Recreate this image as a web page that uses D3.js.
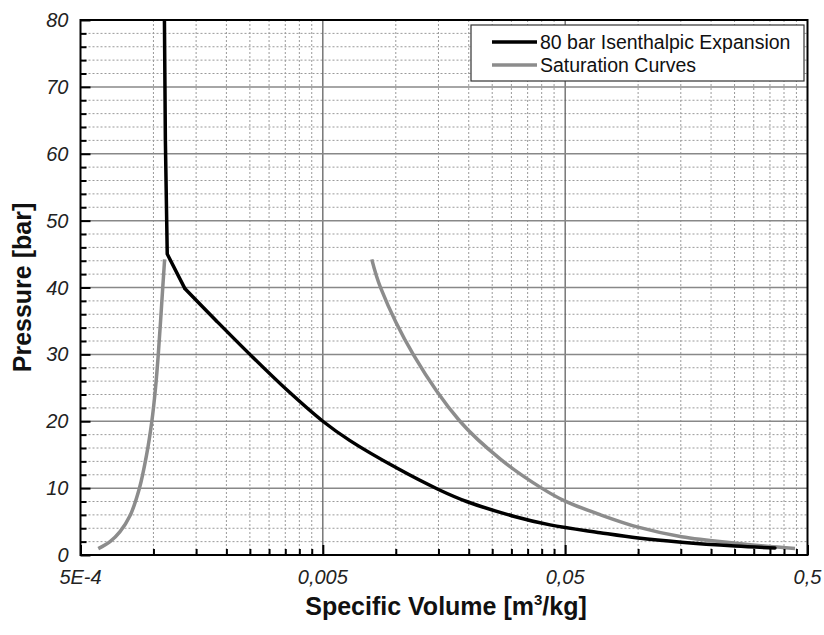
<!DOCTYPE html>
<html>
<head>
<meta charset="utf-8">
<style>
  body { margin: 0; background: #fff; }
  text { font-family: "Liberation Sans", Arial, sans-serif; }
  .tick-label { font-size: 20px; font-style: italic; fill: #222; }
  .axis-title { font-size: 25px; font-weight: bold; fill: #111; }
</style>
</head>
<body>
<svg id="chart" width="824" height="635"></svg>
<script src="https://cdnjs.cloudflare.com/ajax/libs/d3/7.8.5/d3.min.js"></script>
<script>
// data: [specific volume m3/kg, pressure bar]
const expansionLiquid = [
  [0.00111, 80], [0.00112, 62], [0.00114, 45], [0.00135, 39.8]
];
const expansionTwoPhase = [
  [0.00135, 39.8], [0.00182, 35], [0.0025, 30], [0.00355, 24.7],
  [0.005, 20], [0.00647, 17.1], [0.0101, 13], [0.015, 9.8],
  [0.0196, 8], [0.0306, 5.8], [0.0433, 4.5], [0.0697, 3.34],
  [0.1, 2.54], [0.151, 1.91], [0.251, 1.35], [0.367, 1.05]
];
const satLiquid = [
  [0.000592, 0.95], [0.000662, 2.0], [0.000728, 3.5], [0.000801, 5.9],
  [0.000874, 9.9], [0.000936, 14.9], [0.000984, 19.9], [0.00102, 25],
  [0.001047, 30], [0.001092, 39.9], [0.001112, 44.2]
];
const satVapour = [
  [0.00796, 44.2], [0.00867, 39.9], [0.0118, 30], [0.0184, 20],
  [0.0271, 14.3], [0.04, 10], [0.05, 8.05], [0.0697, 6.03], [0.1, 4.16],
  [0.151, 2.74], [0.251, 1.77], [0.444, 0.97]
];
const xMajor = [0.0005, 0.005, 0.05, 0.5];
const xTickLabels = ['5E-4', '0,005', '0,05', '0,5'];
const yMajor = [0, 10, 20, 30, 40, 50, 60, 70, 80];
const legendNames = ['80 bar Isenthalpic Expansion', 'Saturation Curves'];

const svg = d3.select('#chart');
const pLeft = 80.5, pRight = 807.5, pTop = 20, pBottom = 555;

const x = d3.scaleLog().domain([0.0005, 0.5]).range([pLeft, pRight]);
const y = d3.scaleLinear().domain([0, 80]).range([pBottom, pTop]);

// minor ticks at 2..9 times each major value
const xMinor = [];
xMajor.slice(0, -1).forEach(m => { for (let k = 2; k <= 9; k++) xMinor.push(m * k); });
const yMinor = d3.range(0, 81, 2).filter(v => v % 10 !== 0);

const grid = svg.append('g');
grid.selectAll('.vminor').data(xMinor).enter().append('line')
  .attr('x1', d => x(d)).attr('x2', d => x(d)).attr('y1', pTop).attr('y2', pBottom)
  .attr('stroke', '#9a9a9a').attr('stroke-width', 1).attr('stroke-dasharray', '2,2');
grid.selectAll('.hminor').data(yMinor).enter().append('line')
  .attr('x1', pLeft).attr('x2', pRight).attr('y1', d => y(d)).attr('y2', d => y(d))
  .attr('stroke', '#9a9a9a').attr('stroke-width', 1).attr('stroke-dasharray', '2,2');
grid.selectAll('.vmajor').data(xMajor.slice(1, -1)).enter().append('line')
  .attr('x1', d => x(d)).attr('x2', d => x(d)).attr('y1', pTop).attr('y2', pBottom)
  .attr('stroke', '#555').attr('stroke-width', 1.2);
grid.selectAll('.hmajor').data(yMajor.slice(1, -1)).enter().append('line')
  .attr('x1', pLeft).attr('x2', pRight).attr('y1', d => y(d)).attr('y2', d => y(d))
  .attr('stroke', '#888').attr('stroke-width', 1.5);

// curves
const smooth = d3.line().x(d => x(d[0])).y(d => y(d[1])).curve(d3.curveCatmullRom.alpha(0.5));
const straight = d3.line().x(d => x(d[0])).y(d => y(d[1]));
const gray = '#8c8c8c';
svg.append('path').datum(satLiquid).attr('d', smooth)
  .attr('fill', 'none').attr('stroke', gray).attr('stroke-width', 3.5);
svg.append('path').datum(satVapour).attr('d', smooth)
  .attr('fill', 'none').attr('stroke', gray).attr('stroke-width', 3.5);
svg.append('path').datum(expansionLiquid).attr('d', straight)
  .attr('fill', 'none').attr('stroke', '#000').attr('stroke-width', 3.5)
  .attr('stroke-linejoin', 'round');
svg.append('path').datum(expansionTwoPhase).attr('d', smooth)
  .attr('fill', 'none').attr('stroke', '#000').attr('stroke-width', 3.5)
  .attr('stroke-linecap', 'round');

// axes with inward ticks
const axisStyle = g => {
  g.select('.domain').remove();
  g.selectAll('line').attr('stroke', '#000').attr('stroke-width', 2);
  g.selectAll('text').remove();
};
svg.append('g').attr('transform', `translate(0,${pBottom})`)
  .call(d3.axisBottom(x).tickValues(xMinor).tickSize(-6)).call(axisStyle);
svg.append('g').attr('transform', `translate(0,${pBottom})`)
  .call(d3.axisBottom(x).tickValues(xMajor).tickSize(-10)).call(axisStyle);
svg.append('g').attr('transform', `translate(${pLeft},0)`)
  .call(d3.axisLeft(y).tickValues(yMinor).tickSize(-6)).call(axisStyle);
svg.append('g').attr('transform', `translate(${pLeft},0)`)
  .call(d3.axisLeft(y).tickValues(yMajor).tickSize(-10)).call(axisStyle);

svg.append('rect').attr('x', pLeft).attr('y', pTop)
  .attr('width', pRight - pLeft).attr('height', pBottom - pTop)
  .attr('fill', 'none').attr('stroke', '#000').attr('stroke-width', 2);

// tick labels
svg.selectAll('.xl').data(xMajor).enter().append('text')
  .attr('class', 'tick-label').attr('x', d => x(d)).attr('y', pBottom + 29)
  .attr('text-anchor', 'middle').text((d, i) => xTickLabels[i]);
svg.selectAll('.yl').data(yMajor).enter().append('text')
  .attr('class', 'tick-label').attr('x', pLeft - 12).attr('y', d => y(d) + 7)
  .attr('text-anchor', 'end').text(d => d);

// axis titles
const xt = svg.append('text').attr('class', 'axis-title')
  .attr('x', 446).attr('y', 615).attr('text-anchor', 'middle');
xt.append('tspan').text('Specific Volume [m');
xt.append('tspan').attr('dy', -10).attr('font-size', 15).text('3');
xt.append('tspan').attr('dy', 10).text('/kg]');
svg.append('text').attr('class', 'axis-title')
  .attr('transform', `translate(31,${(pTop + pBottom) / 2}) rotate(-90)`)
  .attr('text-anchor', 'middle').text('Pressure [bar]');

// legend
const lg = svg.append('g');
lg.append('rect').attr('x', 471).attr('y', 25).attr('width', 333).attr('height', 56)
  .attr('fill', '#fff').attr('stroke', '#333').attr('stroke-width', 1.2);
const legendColors = ['#000', gray];
legendNames.forEach((name, i) => {
  const yy = 42 + i * 23;
  lg.append('line').attr('x1', 492).attr('x2', 537).attr('y1', yy).attr('y2', yy)
    .attr('stroke', legendColors[i]).attr('stroke-width', 3.5);
  lg.append('text').attr('x', 540).attr('y', yy + 7)
    .attr('font-size', 19.5).attr('fill', '#111').text(name);
});
</script>
</body>
</html>
